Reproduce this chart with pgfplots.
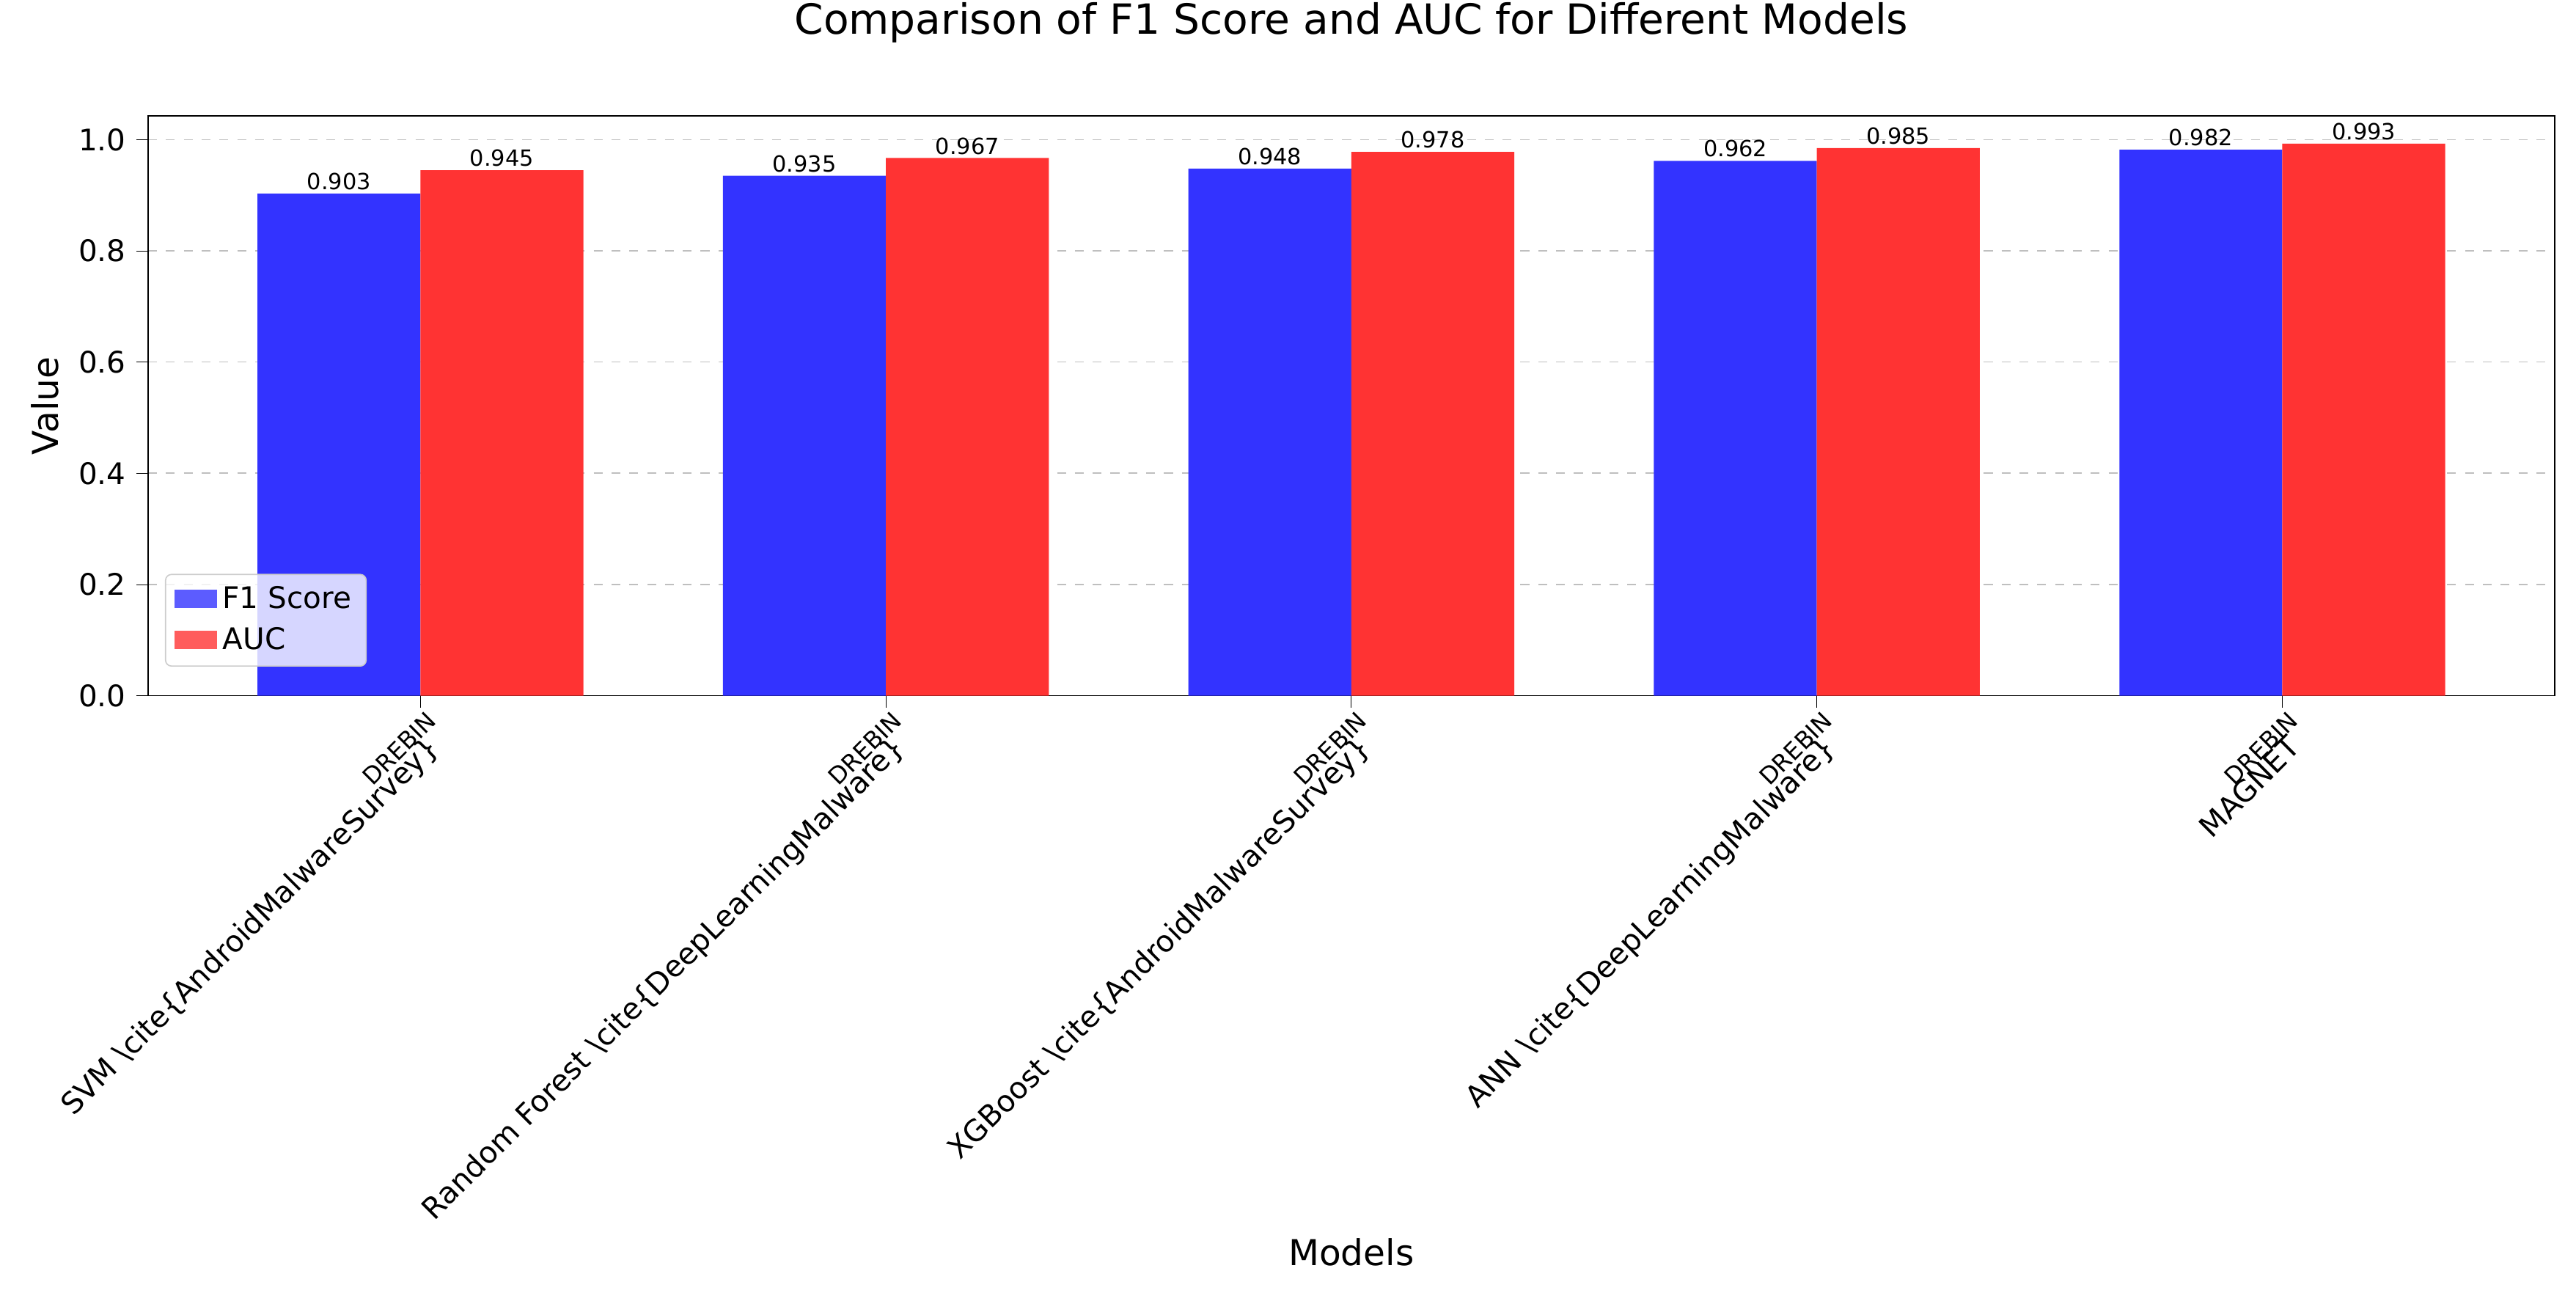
\documentclass[border=0pt]{standalone}
\usepackage{pgfplots}
\pgfplotsset{compat=1.18}
\usepackage{fontspec}
\setmainfont{DejaVu Sans}
\definecolor{mblue}{RGB}{51,51,255}
\definecolor{mred}{RGB}{255,51,51}
\begin{document}
\begin{tikzpicture}
\begin{axis}[
  scale only axis, width=11.21in, height=2.70in,
  clip=false,
  xmin=-0.585, xmax=4.585, ymin=0, ymax=1.0427,
  axis line style={black},
  /pgf/number format/assume math mode=true,
  xtick={0,1,2,3,4}, xtick pos=bottom, ytick pos=left,
  xticklabels={SVM \textbackslash cite\{AndroidMalwareSurvey\},Random Forest \textbackslash cite\{DeepLearningMalware\},XGBoost \textbackslash cite\{AndroidMalwareSurvey\},ANN \textbackslash cite\{DeepLearningMalware\},MAGNET},
  xticklabel style={rotate=45, anchor=north east, font=\fontsize{10}{12}\selectfont, inner sep=1pt, yshift=-6pt, xshift=-4pt},
  ytick={0,0.2,0.4,0.6,0.8,1.0},
  yticklabel style={/pgf/number format/fixed,/pgf/number format/fixed zerofill,/pgf/number format/precision=1, font=\fontsize{10}{12}\selectfont},
  tick align=outside, tick style={black}, major tick length=4pt,
  ymajorgrids, grid style={dashed, gray!50},
  title={Comparison of F1 Score and AUC for Different Models},
  title style={font=\fontsize{14}{16}\selectfont, at={(axis description cs:0.5,1.13)}, anchor=center},
  xlabel={Models}, ylabel={Value},
  xlabel style={font=\fontsize{12}{14}\selectfont, at={(axis description cs:0.5,-0.96)}, anchor=center},
  ylabel style={font=\fontsize{12}{14}\selectfont, at={(axis description cs:-0.043,0.5)}, anchor=center},
  legend style={at={(0.007,0.05)}, anchor=south west, font=\fontsize{10}{12}\selectfont, draw=gray!40, fill=white, fill opacity=0.8, text opacity=1, rounded corners=2pt, row sep=1pt},
  legend cell align=left,
  legend image code/.code={\fill[#1, sharp corners] (0cm,-0.1cm) rectangle (0.5cm,0.12cm);},
  nodes near coords, every node near coord/.append style={font=\fontsize{7.5}{9}\selectfont, black, inner sep=1pt},
  nodes near coords style={/pgf/number format/fixed,/pgf/number format/precision=3,/pgf/number format/fixed zerofill},
]
\addplot[ybar, bar width=0.35, bar shift=0pt, fill=mblue, draw=none] coordinates {(-0.175,0.903) (0.825,0.935) (1.825,0.948) (2.825,0.962) (3.825,0.982)};
\addlegendentry{F1 Score}
\addplot[ybar, bar width=0.35, bar shift=0pt, fill=mred, draw=none] coordinates {(0.175,0.945) (1.175,0.967) (2.175,0.978) (3.175,0.985) (4.175,0.993)};
\addlegendentry{AUC}
\foreach \i in {0,...,4}{
  \edef\temp{\noexpand\node[rotate=45, anchor=north east, font=\noexpand\fontsize{8}{9}\noexpand\selectfont, inner sep=0pt] at (axis cs:\i+0.01,-0.025) {DREBIN};}
  \temp
}
\end{axis}
\pgfresetboundingbox
\path (current axis.south west) ++(-0.69in,-2.78in) rectangle ++(12in,6.02in);
\end{tikzpicture}
\end{document}
